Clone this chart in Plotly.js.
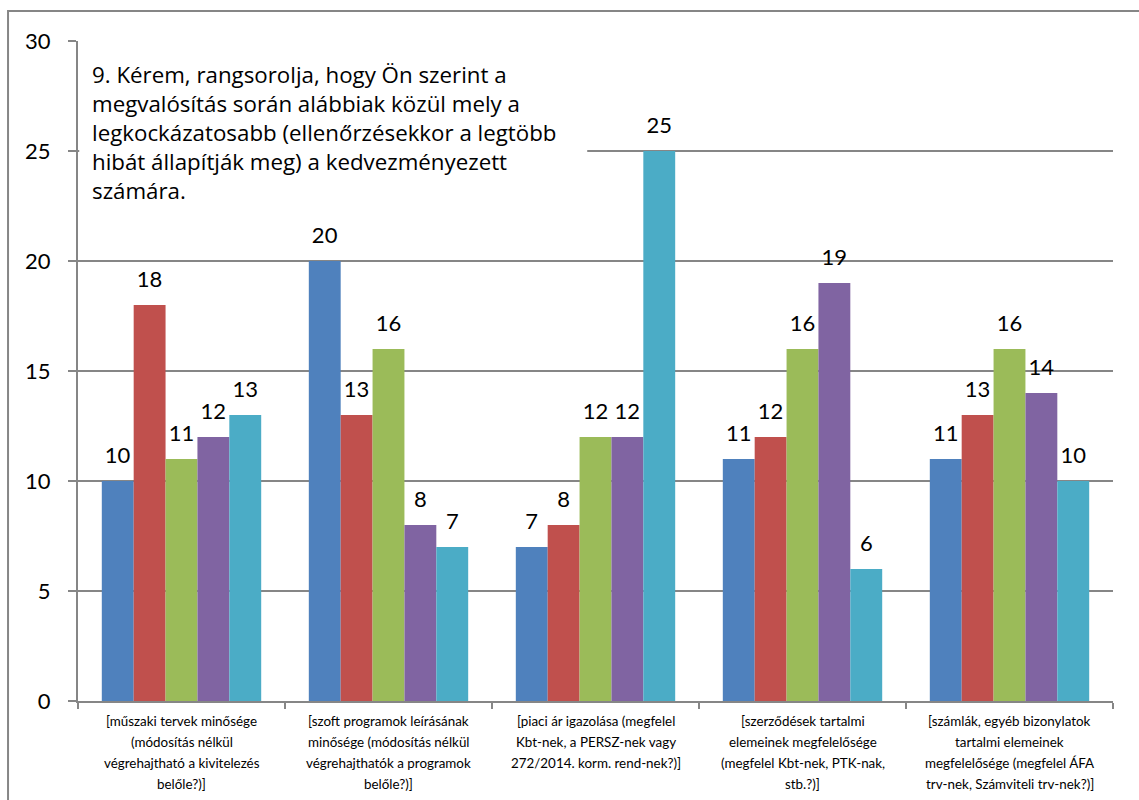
<!DOCTYPE html>
<html>
<head>
<meta charset="utf-8">
<script src="https://cdn.plot.ly/plotly-3.0.1.min.js"></script>
<style>
  html, body { margin: 0; padding: 0; background: #fff; }
  #chart { width: 1139px; height: 800px; }
</style>
</head>
<body>
<div id="chart"></div>
<script>
const categoryLines = [
  ["[műszaki tervek minősége", "(módosítás nélkül", "végrehajtható a kivitelezés", "belőle?)]"],
  ["[szoft programok leírásának", "minősége (módosítás nélkül", "végrehajthatók a programok", "belőle?)]"],
  ["[piaci ár igazolása (megfelel", "Kbt-nek, a PERSZ-nek vagy", "272/2014. korm. rend-nek?)]"],
  ["[szerződések tartalmi", "elemeinek megfelelősége", "(megfelel Kbt-nek, PTK-nak,", "stb.?)]"],
  ["[számlák, egyéb bizonylatok", "tartalmi elemeinek", "megfelelősége (megfelel ÁFA", "trv-nek, Számviteli trv-nek?)]"]
];
const categories = categoryLines.map(l => l.join(" "));
const seriesNames = ["1", "2", "3", "4", "5"];
const series1 = [10, 20, 7, 11, 11];
const series2 = [18, 13, 8, 12, 13];
const series3 = [11, 16, 12, 16, 16];
const series4 = [12, 8, 12, 19, 14];
const series5 = [13, 7, 25, 6, 10];
const colors = ["#4F81BD", "#C0504D", "#9BBB59", "#8064A2", "#4BACC6"];
const yTicks = [0, 5, 10, 15, 20, 25, 30];
const titleText = "9. Kérem, rangsorolja, hogy Ön szerint a<br>megvalósítás során alábbiak közül mely a<br>legkockázatosabb (ellenőrzésekkor a legtöbb<br>hibát állapítják meg) a kedvezményezett<br>számára.";

const allSeries = [series1, series2, series3, series4, series5];
const FONT = "Lato, 'Open Sans', sans-serif";
const TITLE_FONT = "'Open Sans', 'Noto Sans', sans-serif";

const traces = allSeries.map((vals, i) => ({
  type: "bar",
  name: seriesNames[i],
  x: categories,
  y: vals,
  marker: { color: colors[i], line: { width: 0 } },
  text: vals.map(v => "<span style='font-size:22px'>" + v + "</span><br>\u00a0"),
  textposition: "outside",
  constraintext: "none",
  textfont: { family: FONT, size: 10, color: "#000" },
  cliponaxis: false,
  hoverinfo: "x+y"
}));

const catAnnotations = [];
categoryLines.forEach((lines, ci) => {
  lines.forEach((line, li) => {
    catAnnotations.push({
      xref: "x", yref: "paper",
      x: categories[ci], y: 0,
      yshift: -20 - li * 21,
      xanchor: "center", yanchor: "middle",
      showarrow: false,
      text: line,
      font: { family: FONT, size: 13.4, color: "#000" }
    });
  });
});

const layout = {
  width: 1139,
  height: 800,
  margin: { l: 78, r: 26, t: 41, b: 99 },
  paper_bgcolor: "#fff",
  plot_bgcolor: "#fff",
  showlegend: false,
  barmode: "group",
  bargap: 0.23,
  bargroupgap: 0,
  font: { family: FONT, color: "#000" },
  xaxis: {
    type: "category",
    showgrid: false,
    showline: true,
    linecolor: "#868686",
    linewidth: 2,
    ticks: "outside",
    tickson: "boundaries",
    ticklen: 6,
    tickwidth: 2,
    tickcolor: "#868686",
    showticklabels: false,
    automargin: false
  },
  yaxis: {
    range: [0, 30],
    tickvals: yTicks,
    ticktext: yTicks.map(String),
    showgrid: true,
    gridcolor: "#868686",
    gridwidth: 2,
    zeroline: false,
    showline: true,
    linecolor: "#868686",
    linewidth: 2,
    ticks: "outside",
    ticklen: 8,
    tickwidth: 2,
    tickcolor: "#868686",
    ticklabelstandoff: 13,
    tickfont: { family: FONT, size: 22, color: "#000" },
    automargin: false
  },
  shapes: [
    {
      type: "rect", xref: "paper", yref: "paper",
      x0: -0.0676, x1: 1.1, y0: -0.3, y1: 1.0455,
      line: { color: "#868686", width: 2 },
      fillcolor: "rgba(0,0,0,0)",
      layer: "above"
    },
    {
      type: "rect", xref: "paper", yref: "paper",
      x0: 0.0012, x1: 0.492, y0: 0.736, y1: 0.985,
      line: { width: 0 },
      fillcolor: "#fff",
      layer: "above"
    }
  ],
  annotations: [
    {
      xref: "paper", yref: "paper",
      x: 0.0116, y: 0.976,
      xanchor: "left", yanchor: "top",
      align: "left",
      showarrow: false,
      text: titleText,
      font: { family: TITLE_FONT, size: 22.3, color: "#000" }
    }
  ].concat(catAnnotations)
};

Plotly.newPlot("chart", traces, layout, { displayModeBar: false, staticPlot: true });
</script>
</body>
</html>
